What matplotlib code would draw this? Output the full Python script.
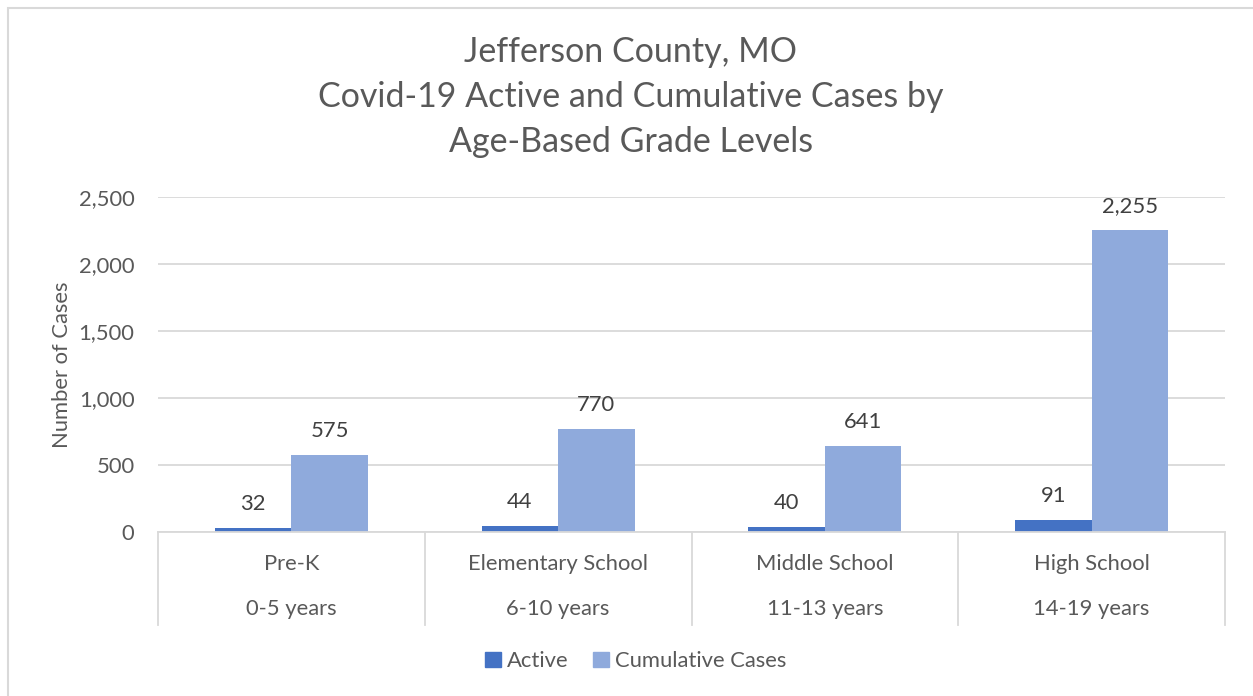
import matplotlib
matplotlib.use("Agg")
import matplotlib.pyplot as plt
from matplotlib.lines import Line2D
from matplotlib.patches import Rectangle, Patch
import numpy as np

categories = ["Pre-K", "Elementary School", "Middle School", "High School"]
age_ranges = ["0-5 years", "6-10 years", "11-13 years", "14-19 years"]
active = [32, 44, 40, 91]
cumulative = [575, 770, 641, 2255]
yticks = [0, 500, 1000, 1500, 2000, 2500]

plt.rcParams['font.family'] = ['Lato', 'DejaVu Sans']
TXT = "#595959"
GRID = "#d9d9d9"
C_ACT = "#4472C4"
C_CUM = "#8FAADC"
FS = 15.8

fig = plt.figure(figsize=(12.53, 6.96), dpi=100)
ax = fig.add_axes([158/1253, 1-532/696, (1225-158)/1253, (532-197)/696])

x = np.arange(len(categories))
w = 0.2865
b1 = ax.bar(x - w/2, active, w, color=C_ACT, label="Active", zorder=3)
b2 = ax.bar(x + w/2, cumulative, w, color=C_CUM, label="Cumulative Cases", zorder=3)

for bars, vals in ((b1, active), (b2, cumulative)):
    for r, v in zip(bars, vals):
        ax.annotate(f"{v:,}", (r.get_x() + r.get_width()/2, r.get_height()),
                    xytext=(0, 17), textcoords="offset points",
                    ha="center", va="center", fontsize=FS, color="#404040")

ax.set_xlim(-0.5, len(categories) - 0.5)
ax.set_ylim(0, 2500)
ax.set_yticks(yticks)
ax.set_yticklabels([f"{t:,}" for t in yticks], fontsize=FS, color=TXT)
ax.tick_params(axis='y', length=0, pad=17)
ax.set_xticks([])
ax.grid(axis='y', color=GRID, linewidth=1.3, zorder=0)
for s in ("top", "right", "left"):
    ax.spines[s].set_visible(False)
ax.spines["bottom"].set_color(GRID)
ax.spines["bottom"].set_linewidth(1.3)
ax.spines["bottom"].set_zorder(4)

ax.set_ylabel("Number of Cases", fontsize=FS, color=TXT, labelpad=5)

trans = ax.get_xaxis_transform()
for i, (c, a) in enumerate(zip(categories, age_ranges)):
    ax.text(i, -0.0955, c, transform=trans, ha="center", va="center", fontsize=FS, color=TXT)
    ax.text(i, -0.23, a, transform=trans, ha="center", va="center", fontsize=FS, color=TXT)
for b in np.arange(-0.5, len(categories), 1.0):
    ax.add_line(Line2D([b, b], [0, -0.278], transform=trans, color=GRID, lw=1.3, clip_on=False))

fig.text(631/1253, 1 - 97/696,
         "Jefferson County, MO\nCovid-19 Active and Cumulative Cases by\nAge-Based Grade Levels",
         ha="center", va="center", fontsize=24.5, color=TXT, linespacing=1.5)

handles = [Patch(color=C_ACT, label="Active"), Patch(color=C_CUM, label="Cumulative Cases")]
fig.legend(handles=handles, loc="center", bbox_to_anchor=(636/1253, 1 - 661/696), ncol=2,
           frameon=False, fontsize=FS, labelcolor=TXT, handlelength=0.7, handleheight=0.7,
           handletextpad=0.3, columnspacing=1.1)

fig.add_artist(Rectangle((8/1253, -0.05), 1.1, 1 - 8/696 + 0.05, transform=fig.transFigure,
                         fill=False, edgecolor=GRID, lw=1.5))

fig.savefig("out.png", dpi=100)
